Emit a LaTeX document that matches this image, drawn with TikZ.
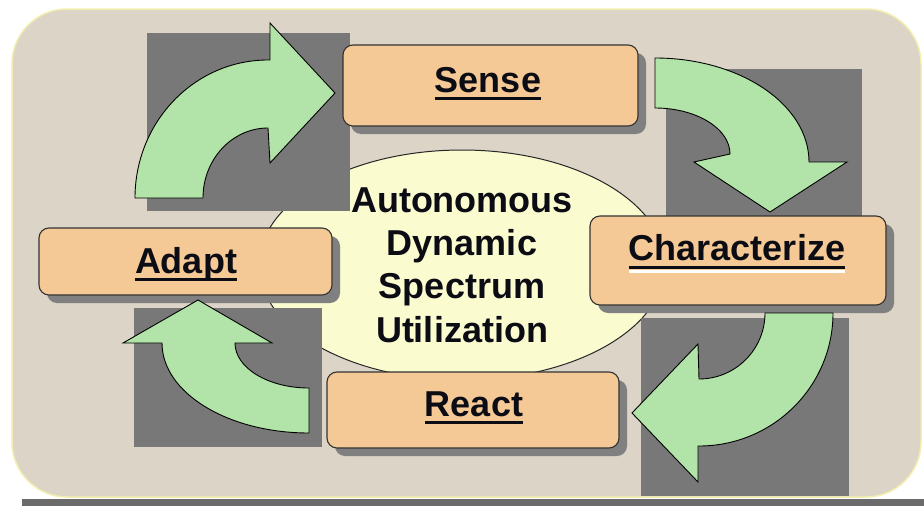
\documentclass[tikz,border=0pt]{standalone}
\usepackage{fontspec}
\setmainfont{Liberation Sans}
\usetikzlibrary{shapes.geometric,shadows}
\definecolor{bgbeige}{RGB}{220,212,199}
\definecolor{bgedge}{RGB}{242,238,175}
\definecolor{sqgray}{RGB}{120,120,120}
\definecolor{boxfill}{RGB}{245,201,150}
\definecolor{arrowfill}{RGB}{178,227,168}
\definecolor{hubfill}{RGB}{251,251,208}
\definecolor{inkc}{RGB}{12,12,20}
\newcommand\ulbox[1]{\setbox0\hbox{#1}\rlap{\rule[-8pt]{\wd0}{3pt}}\box0}
\newcommand\ulboxw[1]{\setbox0\hbox{#1}\rlap{\rule[-9pt]{\wd0}{3pt}}\rlap{\color{white}\rule[-13pt]{\wd0}{3pt}}\box0}
\begin{document}
\begin{tikzpicture}[x=1pt,y=-1pt,
  every node/.style={font=\fontsize{36}{43.3}\selectfont\bfseries, text=inkc},
  stagebox/.style={draw=black!80, line width=1.1pt, fill=boxfill, rounded corners=10pt,
    inner sep=0pt, drop shadow={shadow xshift=8pt, shadow yshift=-8pt, fill=black!50, opacity=1}},
  lbl/.style={anchor=base, inner sep=0pt},
  hub/.style={ellipse, draw=black!85, line width=1pt, fill=hubfill, align=center,
    minimum width=406pt, minimum height=230pt, inner sep=0pt},
  greenarrow/.style={fill=arrowfill, draw=black, line width=0.9pt, line join=miter},
  graysq/.style={fill=sqgray}
]
\useasboundingbox (0,0) rectangle (924,506);
\fill[white] (0,0) rectangle (924,506);
% background panel
\fill[black!58] (22,499) rectangle (924,506);
\draw[bgedge, line width=1.5pt, fill=bgbeige, rounded corners=55pt] (12,9) rectangle (921,497);
% centre ellipse
\node[hub] (hub) at (462,265) {Autonomous\\Dynamic\\Spectrum\\Utilization};
% grey squares
\fill[graysq] (147,33) rectangle (350,211);
\fill[graysq] (666,69) rectangle (862,216);
\fill[graysq] (134,308) rectangle (322,447);
\fill[graysq] (641,318) rectangle (849,496);
% stage boxes
\node[stagebox, minimum width=295pt, minimum height=81pt] (sense) at (490.5,85.5) {};
\node[stagebox, minimum width=296pt, minimum height=89pt] (charact) at (738,260.5) {};
\node[stagebox, minimum width=293pt, minimum height=67pt] (adapt) at (185.5,261.5) {};
\node[stagebox, minimum width=292pt, minimum height=76pt] (react) at (473,410) {};
% labels
\node[lbl] (senseT) at (488,92) {\ulbox{Sense}};
\node[lbl] (charT) at (737,260) {\ulboxw{Characterize}};
\node[lbl] (adaptT) at (186,273) {\ulbox{Adapt}};
\node[lbl] (reactT) at (474,416) {\ulbox{React}};
% curved arrows
\draw[greenarrow] (135,198) arc[start angle=180,end angle=270,x radius=133,y radius=138]
  -- (270,60) -- (270,23) -- (335,93) -- (270,163) -- (268,128)
  arc[start angle=270,end angle=180,x radius=65,y radius=70] -- cycle;
\draw[greenarrow] (655,58) arc[start angle=270,end angle=360,x radius=154,y radius=104]
  -- (847,162) -- (770,212) -- (694,162) -- (730,154)
  arc[start angle=360,end angle=270,x radius=75,y radius=46] -- cycle;
\draw[greenarrow] (833,313) arc[start angle=0,end angle=90,x radius=134,y radius=133]
  -- (698,446) -- (698,482) -- (632,413) -- (698,344) -- (699,379)
  arc[start angle=90,end angle=0,x radius=66,y radius=66] -- cycle;
\draw[greenarrow] (309,433) arc[start angle=90,end angle=180,x radius=147,y radius=90]
  -- (123,343) -- (198,300) -- (272,343) -- (235,343)
  arc[start angle=180,end angle=90,x radius=74,y radius=45] -- cycle;
\end{tikzpicture}
\end{document}
